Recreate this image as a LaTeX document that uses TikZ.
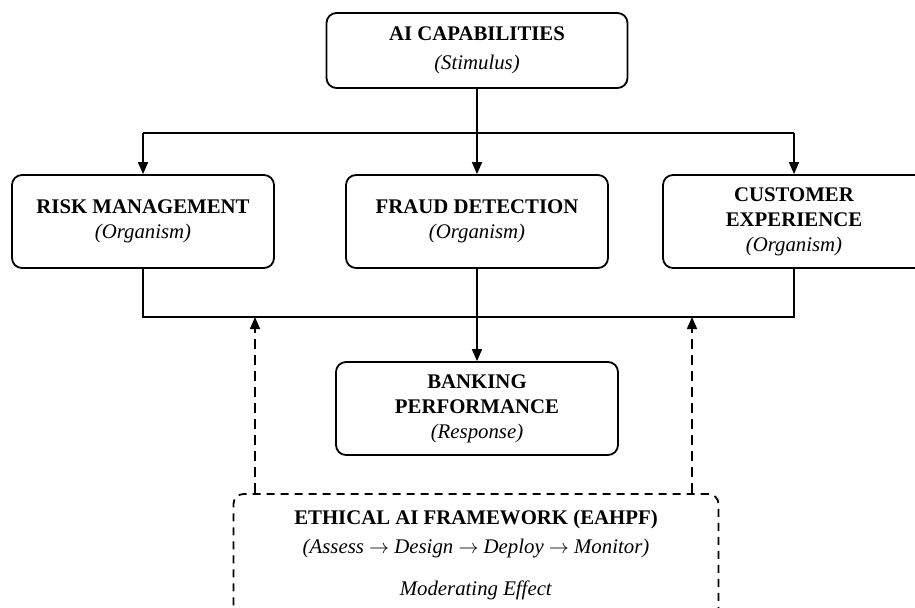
\documentclass[tikz,border=0pt]{standalone}
\usepackage{fontspec}
\setmainfont{Liberation Serif}
\usetikzlibrary{arrows.meta}
\begin{document}
\begin{tikzpicture}[x=0.5pt,y=-0.5pt,
  box/.style={draw, line width=0.9pt, rounded corners=5pt, align=center, inner sep=0pt,
    font=\fontsize{10.4}{12.5}\selectfont},
  txt/.style={align=center, inner sep=0pt, font=\fontsize{10.4}{12.5}\selectfont},
  conn/.style={line width=0.8pt},
  arr/.style={line width=0.8pt, -{Triangle[length=6pt,width=5pt]}},
  darr/.style={line width=0.8pt, dash pattern=on 5pt off 3pt, -{Triangle[length=6pt,width=5pt]}},
  dbox/.style={draw, line width=0.9pt, dash pattern=on 4pt off 3pt, rounded corners=5pt, inner sep=0pt},
  ]
\useasboundingbox (0,0) rectangle (915,607);

\node[box, minimum width=150.5pt, minimum height=37.5pt] (ai) at (477,50.5)
  {\textbf{AI CAPABILITIES}\\[2pt]\textit{(Stimulus)}};
\node[box, minimum width=131pt, minimum height=46.5pt] (risk) at (143,221.5)
  {\textbf{RISK MANAGEMENT}\\\textit{(Organism)}};
\node[box, minimum width=131pt, minimum height=46.5pt] (fraud) at (477,221.5)
  {\textbf{FRAUD DETECTION}\\\textit{(Organism)}};
\node[box, minimum width=131pt, minimum height=46.5pt] (cust) at (794,221.5)
  {\textbf{CUSTOMER}\\\textbf{EXPERIENCE}\\\textit{(Organism)}};
\node[box, minimum width=141pt, minimum height=46.5pt] (bank) at (477,408.5)
  {\textbf{BANKING}\\\textbf{PERFORMANCE}\\\textit{(Response)}};

\node[dbox, minimum width=242.5pt, minimum height=63pt] (eth) at (476,557) {};
\node[txt, anchor=base] (ethtitle) at (476,524) {\textbf{ETHICAL AI FRAMEWORK (EAHPF)}};
\node[txt, anchor=base] (ethsteps) at (476,553)
  {\textit{(Assess $\rightarrow$ Design $\rightarrow$ Deploy $\rightarrow$ Monitor)}};
\node[txt, anchor=base] (ethmod) at (476,595) {\textit{Moderating Effect}};

\coordinate (hy1) at (0,133);
\coordinate (hy2) at (0,317);
\coordinate (dx1) at (255,0);
\coordinate (dx2) at (692,0);

\draw[conn] (ai.south) -- (ai.south |- hy1);
\draw[conn] (risk.north |- hy1) -- (cust.north |- hy1);
\draw[arr] (risk.north |- hy1) -- (risk.north);
\draw[arr] (ai.south |- hy1) -- (fraud.north);
\draw[arr] (cust.north |- hy1) -- (cust.north);

\draw[conn] (risk.south) -- (risk.south |- hy2) -- (cust.south |- hy2) -- (cust.south);
\draw[arr] (fraud.south) -- (bank.north);

\draw[darr] (eth.north -| dx1) -- (dx1 |- hy2);
\draw[darr] (eth.north -| dx2) -- (dx2 |- hy2);
\end{tikzpicture}
\end{document}
